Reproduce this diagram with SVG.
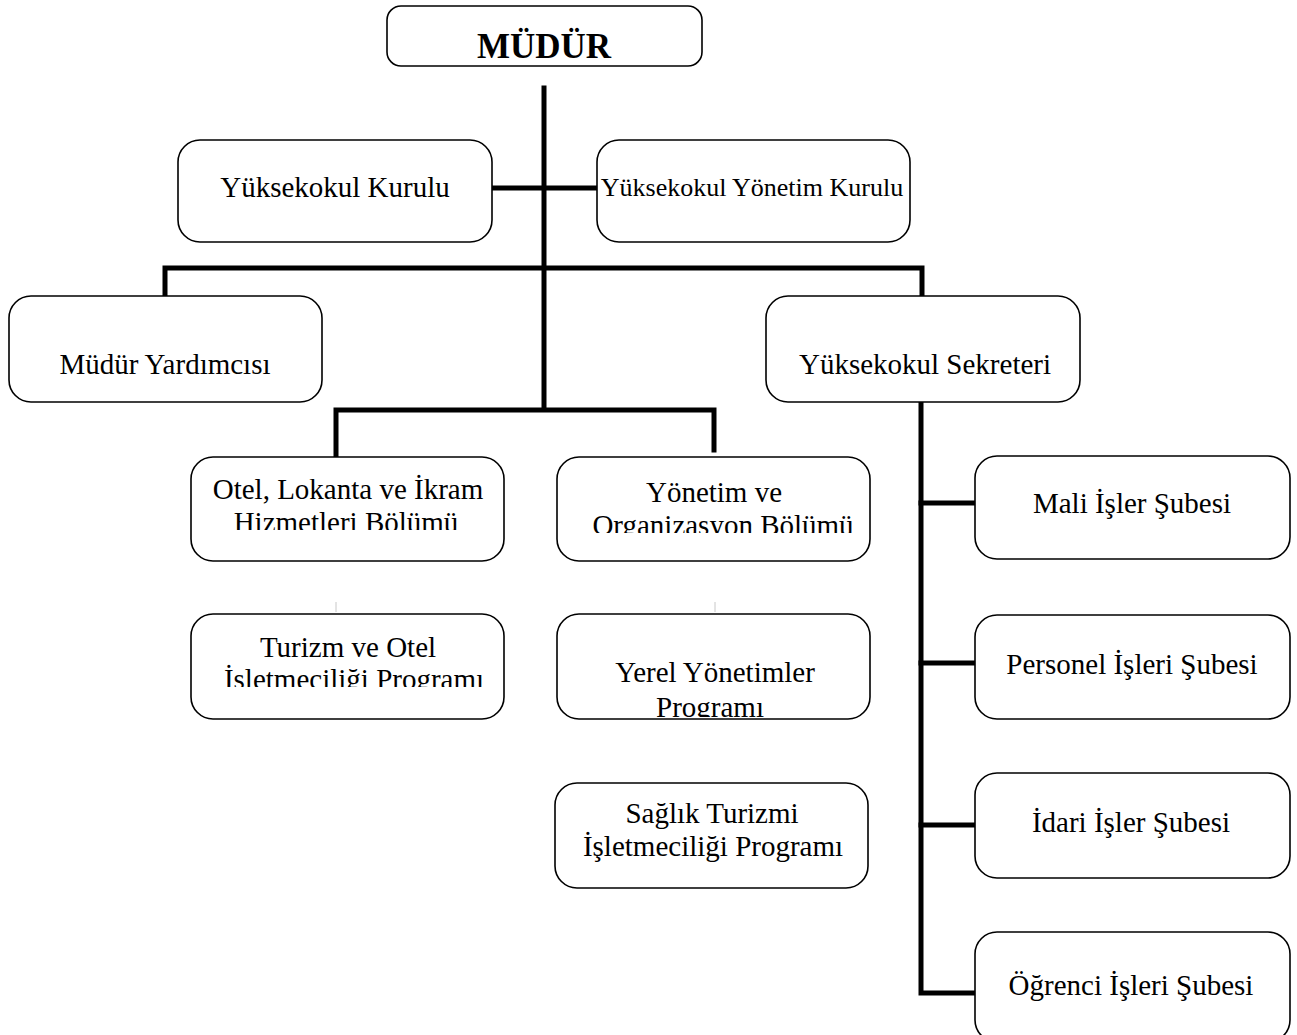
<svg xmlns="http://www.w3.org/2000/svg" width="1297" height="1035" viewBox="0 0 1297 1035">
<style>
.box{fill:#fff;stroke:#000;stroke-width:1.6}
.t{font-family:"Liberation Serif","Times New Roman",serif;font-size:29px;fill:#000;text-anchor:middle}
.b{font-weight:bold;font-size:35px}
.s{font-size:26px}
.c{fill:none;stroke:#000;stroke-width:5;stroke-linecap:square;stroke-linejoin:miter}
.tick{stroke:#c8c8c8;stroke-width:1}
</style>
<defs>
<clipPath id="clipOtel"><rect x="191" y="457" width="313" height="73"/></clipPath>
<clipPath id="clipYon"><rect x="557" y="457" width="313" height="76"/></clipPath>
<clipPath id="clipTur"><rect x="191" y="614" width="313" height="73"/></clipPath>
<clipPath id="clipYer"><rect x="557" y="614" width="313" height="103"/></clipPath>
</defs>
<g id="connectors">
<path class="c" d="M544 88 V408"/>
<path class="c" d="M494 188 H595"/>
<path class="c" d="M165 294 V268 H922 V294"/>
<path class="c" d="M336 455 V410 H714 V450"/>
<path class="c" d="M921 404 V993 H973"/>
<path class="c" d="M921 503 H973"/>
<path class="c" d="M921 663 H973"/>
<path class="c" d="M921 825 H973"/>
<line class="tick" x1="336" y1="602" x2="336" y2="612"/>
<line class="tick" x1="715" y1="602" x2="715" y2="612"/>
</g>
<g id="mudur"><rect class="box" x="387" y="6" width="315" height="60" rx="14"/><text class="t b" x="544" y="58">MÜDÜR</text></g>
<g id="yuksekokul-kurulu"><rect class="box" x="178" y="140" width="314" height="102" rx="22"/><text class="t" x="335" y="197">Yüksekokul Kurulu</text></g>
<g id="yuksekokul-yonetim-kurulu"><rect class="box" x="597" y="140" width="313" height="102" rx="22"/><text class="t s" x="752" y="196">Yüksekokul Yönetim Kurulu</text></g>
<g id="mudur-yardimcisi"><rect class="box" x="9" y="296" width="313" height="106" rx="22"/><text class="t" x="165" y="374">Müdür Yardımcısı</text></g>
<g id="yuksekokul-sekreteri"><rect class="box" x="766" y="296" width="314" height="106" rx="22"/><text class="t" x="925" y="374">Yüksekokul Sekreteri</text></g>
<g id="otel-lokanta"><rect class="box" x="191" y="457" width="313" height="104" rx="22"/><g clip-path="url(#clipOtel)"><text class="t" x="348" y="499">Otel, Lokanta ve İkram</text><text class="t" x="346" y="532">Hizmetleri Bölümü</text></g></g>
<g id="yonetim-organizasyon"><rect class="box" x="557" y="457" width="313" height="104" rx="22"/><g clip-path="url(#clipYon)"><text class="t" x="714" y="502">Yönetim ve</text><text class="t" x="723" y="535">Organizasyon Bölümü</text></g></g>
<g id="turizm-otel"><rect class="box" x="191" y="614" width="313" height="105" rx="22"/><g clip-path="url(#clipTur)"><text class="t" x="348" y="657">Turizm ve Otel</text><text class="t" x="354" y="689">İşletmeciliği Programı</text></g></g>
<g id="yerel-yonetimler"><rect class="box" x="557" y="614" width="313" height="105" rx="22"/><g clip-path="url(#clipYer)"><text class="t" x="715" y="682">Yerel Yönetimler</text><text class="t" x="710" y="717">Programı</text></g></g>
<g id="saglik-turizmi"><rect class="box" x="555" y="783" width="313" height="105" rx="22"/><text class="t" x="712" y="823">Sağlık Turizmi</text><text class="t" x="713" y="856">İşletmeciliği Programı</text></g>
<g id="mali-isler"><rect class="box" x="975" y="456" width="315" height="103" rx="22"/><text class="t" x="1132" y="513">Mali İşler Şubesi</text></g>
<g id="personel-isleri"><rect class="box" x="975" y="615" width="315" height="104" rx="22"/><text class="t" x="1132" y="674">Personel İşleri Şubesi</text></g>
<g id="idari-isler"><rect class="box" x="975" y="773" width="315" height="105" rx="22"/><text class="t" x="1131" y="832">İdari İşler Şubesi</text></g>
<g id="ogrenci-isleri"><rect class="box" x="975" y="932" width="315" height="110" rx="22"/><text class="t" x="1131" y="995">Öğrenci İşleri Şubesi</text></g>
</svg>
